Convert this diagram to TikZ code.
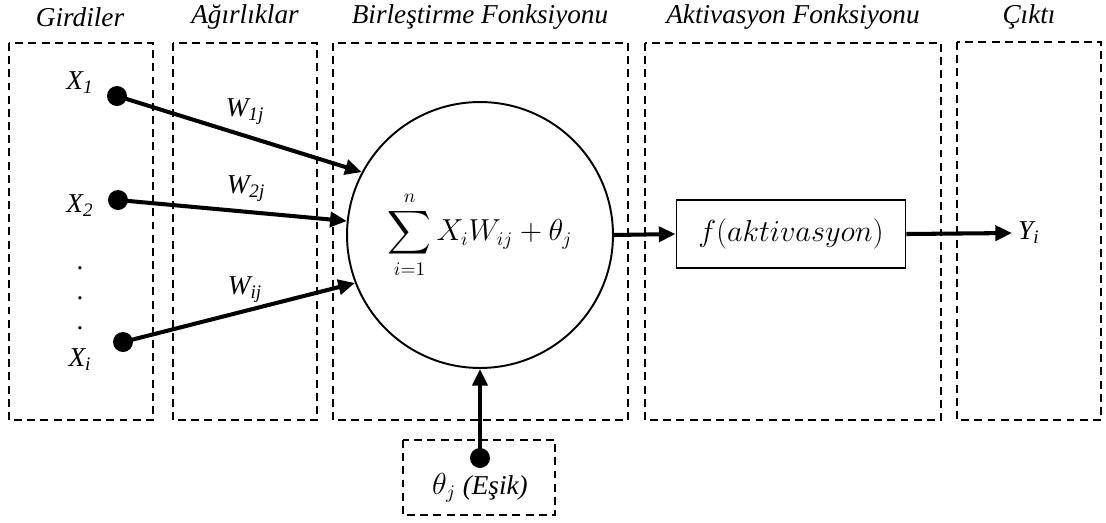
\documentclass[tikz,border=0pt]{standalone}
\usepackage{amsmath}
\usepackage{fontspec}
\setmainfont{Liberation Serif}
\usetikzlibrary{arrows.meta,positioning,calc}

\begin{document}
\begin{tikzpicture}[
  x=0.02cm, y=-0.02cm,
  every node/.style={font=\fontsize{15.5pt}{18pt}\selectfont},
  zone/.style={draw, dashed, line width=0.8pt, dash pattern=on 4.5pt off 3pt},
  title/.style={font=\fontsize{15.5pt}{18pt}\selectfont\itshape},
  lbl/.style={font=\fontsize{15.5pt}{18pt}\selectfont\itshape},
  mathtxt/.style={font=\fontsize{16.3pt}{19pt}\selectfont},
  dot/.style={circle, fill, inner sep=0pt, minimum size=0.4cm},
  arr/.style={line width=2.3pt, -{Triangle[length=9.5pt,width=8.5pt]}},
  neuron/.style={draw, circle, line width=1.1pt, minimum size=5.32cm, inner sep=0pt},
  actbox/.style={draw, rectangle, line width=1.1pt, minimum width=4.58cm,
                 minimum height=1.36cm}
]
\useasboundingbox (0,0) rectangle (1106,522);

% Zones
\draw[zone] (9,43) rectangle (153,420);
\draw[zone] (173,43) rectangle (317,420);
\draw[zone] (333,43) rectangle (628,420);
\draw[zone] (645,43) rectangle (941,420);
\draw[zone] (957,42) rectangle (1101,420);
\draw[zone] (403,440) rectangle (555,515);

% Titles
\node[title] (t1) at (80,17) {Girdiler};
\node[title] (t2) at (245,17) {Ağırlıklar};
\node[title] (t3) at (480,17) {Birleştirme Fonksiyonu};
\node[title] (t4) at (793,17) {Aktivasyon Fonksiyonu};
\node[title] (t5) at (1029,17) {Çıktı};

% Inputs
\node[dot] (x1) at (117,96) {};
\node[dot] (x2) at (118,200) {};
\node[dot] (xi) at (123,342) {};
\node[lbl] (lx1) at (80,83) {X\textsubscript{1}};
\node[lbl] (lx2) at (80,206) {X\textsubscript{2}};
\node[lbl] (lxi) at (80,360) {X\textsubscript{i}};
\node (d1) at (80,268) {.};
\node (d2) at (80,298) {.};
\node (d3) at (80,328) {.};

% Neuron
\node[neuron, mathtxt] (sum) at (480,235) {$\displaystyle\sum_{i=1}^{n} X_iW_{ij}+\theta_j$};

% Weights
\draw[arr] (x1.center) -- (sum.152);
\draw[arr] (x2.center) -- (sum.174);
\draw[arr] (xi.center) -- (sum.201);
\node[lbl] (w1) at (245,112) {W\textsubscript{1j}};
\node[lbl] (w2) at (246,189) {W\textsubscript{2j}};
\node[lbl] (wi) at (245,290) {W\textsubscript{ij}};

% Activation and output
\node[actbox, mathtxt] (act) at (791,234) {$f(aktivasyon)$};
\draw[arr] (sum.east) -- (act.west);
\node[lbl, anchor=west] (yout) at (1012,233) {Y\textsubscript{i}};
\draw[arr] (act.east) -- (yout.west);

% Threshold
\node[dot] (th) at (480,458) {};
\node (lth) at (480,488) {{\fontsize{16.3pt}{19pt}\selectfont$\theta_j$} \textit{(Eşik)}};
\draw[arr] (th.center) -- (sum.south);

\end{tikzpicture}
\end{document}
